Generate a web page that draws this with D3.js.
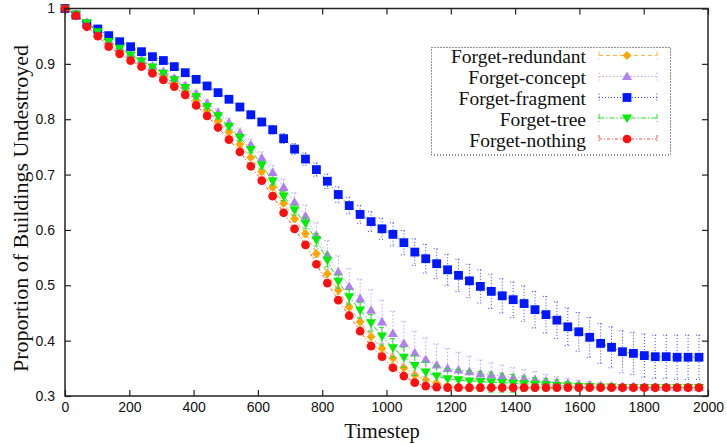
<!DOCTYPE html>
<html><head><meta charset="utf-8">
<script src="https://cdn.jsdelivr.net/npm/d3@7"></script>
<style>body{margin:0;background:#fff}</style>
</head><body><svg id="c" width="727" height="444"></svg>
<script>
const timesteps=[0,34,68,102,136,170,204,238,272,306,340,374,408,442,476,510,544,578,612,646,680,714,748,782,816,850,884,918,952,986,1020,1054,1088,1122,1156,1190,1224,1258,1292,1326,1360,1394,1428,1462,1496,1530,1564,1598,1632,1666,1700,1734,1768,1802,1836,1870,1904,1938,1972];

const forgetRedundant=[1.0,0.988,0.970,0.954,0.936,0.923,0.911,0.900,0.889,0.877,0.865,0.851,0.834,0.816,0.797,0.777,0.755,0.731,0.705,0.677,0.648,0.620,0.593,0.557,0.521,0.491,0.461,0.434,0.407,0.386,0.368,0.351,0.338,0.329,0.323,0.318,0.316,0.315,0.315,0.315,0.315,0.315,0.315,0.315,0.315,0.315,0.315,0.315,0.315,0.315,0.315,0.315,0.315,0.315,0.315,0.315,0.315,0.315,0.315];
const forgetRedundantErr=[0,0.001,0.001,0.001,0.002,0.002,0.002,0.002,0.002,0.003,0.003,0.003,0.003,0.003,0.004,0.004,0.004,0.004,0.005,0.005,0.005,0.006,0.006,0.007,0.007,0.008,0.008,0.008,0.008,0.008,0.008,0.007,0.007,0.006,0.005,0.004,0.003,0.003,0.002,0.002,0.002,0.002,0.002,0.001,0.001,0.001,0.001,0.001,0.001,0.001,0.001,0.001,0.001,0.001,0.001,0.001,0.001,0.001,0.001];

const forgetConcept=[1.0,0.990,0.975,0.960,0.942,0.930,0.918,0.907,0.896,0.886,0.874,0.861,0.846,0.829,0.812,0.794,0.775,0.754,0.730,0.704,0.677,0.650,0.625,0.590,0.555,0.524,0.498,0.476,0.455,0.434,0.413,0.395,0.378,0.366,0.356,0.350,0.347,0.344,0.340,0.338,0.336,0.333,0.332,0.330,0.327,0.325,0.323,0.321,0.320,0.319,0.318,0.317,0.317,0.316,0.316,0.316,0.315,0.315,0.315];
const forgetConceptErr=[0,0.001,0.002,0.002,0.003,0.003,0.003,0.004,0.004,0.004,0.005,0.005,0.005,0.006,0.007,0.008,0.009,0.010,0.011,0.013,0.015,0.017,0.020,0.023,0.026,0.029,0.032,0.035,0.037,0.039,0.040,0.040,0.039,0.039,0.038,0.036,0.032,0.028,0.025,0.022,0.020,0.018,0.016,0.014,0.012,0.010,0.009,0.007,0.006,0.005,0.004,0.004,0.003,0.003,0.002,0.002,0.002,0.002,0.002];

const forgetFragment=[1.0,0.988,0.972,0.963,0.951,0.940,0.931,0.922,0.913,0.906,0.895,0.884,0.872,0.860,0.848,0.836,0.822,0.808,0.795,0.781,0.765,0.746,0.728,0.709,0.688,0.664,0.644,0.628,0.615,0.602,0.592,0.577,0.560,0.548,0.539,0.528,0.518,0.508,0.498,0.489,0.481,0.474,0.467,0.456,0.447,0.437,0.425,0.416,0.406,0.395,0.388,0.380,0.377,0.373,0.371,0.371,0.370,0.370,0.370];
const forgetFragmentErr=[0,0.001,0.002,0.002,0.002,0.003,0.003,0.003,0.003,0.004,0.004,0.004,0.005,0.005,0.005,0.006,0.006,0.007,0.007,0.008,0.009,0.010,0.011,0.012,0.013,0.014,0.015,0.016,0.018,0.019,0.021,0.022,0.024,0.026,0.027,0.028,0.029,0.030,0.030,0.031,0.031,0.032,0.032,0.033,0.033,0.033,0.034,0.035,0.036,0.036,0.037,0.038,0.038,0.039,0.039,0.039,0.040,0.040,0.040];

const forgetTree=[1.0,0.990,0.974,0.958,0.940,0.928,0.916,0.905,0.894,0.883,0.871,0.857,0.841,0.823,0.806,0.787,0.767,0.745,0.717,0.688,0.661,0.636,0.612,0.582,0.545,0.507,0.479,0.455,0.432,0.408,0.387,0.370,0.355,0.343,0.336,0.331,0.329,0.327,0.326,0.325,0.324,0.323,0.322,0.321,0.320,0.319,0.318,0.317,0.317,0.316,0.316,0.315,0.315,0.315,0.315,0.315,0.315,0.315,0.315];
const forgetTreeErr=[0,0.001,0.001,0.002,0.002,0.002,0.003,0.003,0.003,0.003,0.003,0.004,0.004,0.004,0.005,0.005,0.006,0.006,0.007,0.007,0.008,0.009,0.010,0.011,0.012,0.012,0.013,0.014,0.015,0.016,0.017,0.018,0.018,0.019,0.019,0.019,0.019,0.019,0.018,0.018,0.017,0.016,0.014,0.012,0.011,0.010,0.008,0.007,0.006,0.005,0.004,0.003,0.003,0.002,0.002,0.002,0.002,0.001,0.001];

const forgetNothing=[1.0,0.987,0.967,0.950,0.931,0.918,0.906,0.895,0.883,0.871,0.859,0.844,0.825,0.806,0.785,0.763,0.741,0.715,0.689,0.661,0.631,0.602,0.573,0.538,0.504,0.473,0.445,0.417,0.390,0.371,0.351,0.336,0.324,0.318,0.316,0.315,0.315,0.315,0.315,0.315,0.315,0.315,0.315,0.315,0.315,0.315,0.315,0.315,0.315,0.315,0.315,0.315,0.315,0.315,0.315,0.315,0.315,0.315,0.315];
const forgetNothingErr=[0,0.001,0.001,0.001,0.001,0.002,0.002,0.002,0.002,0.002,0.002,0.002,0.003,0.003,0.003,0.003,0.003,0.003,0.003,0.004,0.004,0.004,0.004,0.004,0.004,0.004,0.004,0.004,0.004,0.004,0.003,0.003,0.003,0.002,0.002,0.002,0.002,0.002,0.001,0.001,0.001,0.001,0.001,0.001,0.001,0.001,0.001,0.001,0.001,0.001,0.001,0.001,0.001,0.001,0.001,0.001,0.001,0.001,0.001];

const seriesNames=["Forget-redundant","Forget-concept","Forget-fragment","Forget-tree","Forget-nothing"];
const xTicks=[0,200,400,600,800,1000,1200,1400,1600,1800,2000];
const yTicks=[0.3,0.4,0.5,0.6,0.7,0.8,0.9,1];
const xTitle="Timestep";
const yTitle="Proportion of Buildings Undestroyed";

const series=[
 {name:seriesNames[0],v:forgetRedundant,e:forgetRedundantErr,line:"#f5b440",mark:"#ffa500",dash:"4,3",sym:"diamond"},
 {name:seriesNames[1],v:forgetConcept,e:forgetConceptErr,line:"#c0a0f5",mark:"#b080f0",dash:"1.5,2",sym:"tri"},
 {name:seriesNames[2],v:forgetFragment,e:forgetFragmentErr,line:"#3344ff",mark:"#0018ff",dash:"1,2",sym:"square"},
 {name:seriesNames[3],v:forgetTree,e:forgetTreeErr,line:"#22dd22",mark:"#00ee00",dash:"5,2,1.5,2",sym:"trid"},
 {name:seriesNames[4],v:forgetNothing,e:forgetNothingErr,line:"#ff4444",mark:"#ff1010",dash:"3,2,1,2",sym:"circle"}
];

const svg=d3.select("#c");
const L=65,R=708,T=8.5,B=396;
const x=d3.scaleLinear().domain([0,2000]).range([L,R]);
const y=d3.scaleLinear().domain([0.3,1]).range([B,T]);

function symPath(s){
  if(s==="diamond") return "M0,-4.5L4.5,0L0,4.5L-4.5,0Z";
  if(s==="tri") return "M0,-5L5,3.6L-5,3.6Z";
  if(s==="trid") return "M0,5L5,-3.6L-5,-3.6Z";
  if(s==="square") return "M-4.4,-4.4H4.4V4.4H-4.4Z";
  return d3.symbol(d3.symbolCircle,60)();
}

// axes
const fmt=d=>d===1?"1":d3.format(".1f")(d);
const gx=svg.append("g").attr("transform",`translate(0,${B})`)
  .call(d3.axisBottom(x).tickValues(xTicks).tickSizeInner(-6).tickSizeOuter(0).tickPadding(6).tickFormat(d3.format("d")));
const gxt=svg.append("g").attr("transform",`translate(0,${T})`)
  .call(d3.axisTop(x).tickValues(xTicks).tickSizeInner(-6).tickSizeOuter(0).tickFormat(""));
const gy=svg.append("g").attr("transform",`translate(${L},0)`)
  .call(d3.axisLeft(y).tickValues(yTicks).tickSizeInner(-6).tickSizeOuter(0).tickPadding(10).tickFormat(fmt));
const gyr=svg.append("g").attr("transform",`translate(${R},0)`)
  .call(d3.axisRight(y).tickValues(yTicks).tickSizeInner(-6).tickSizeOuter(0).tickFormat(""));
[gx,gxt,gy,gyr].forEach(g=>{
  g.select(".domain").remove();
  g.selectAll(".tick line").attr("stroke","#222").attr("stroke-width",1.2);
  g.selectAll(".tick text").attr("font-family","'Liberation Sans',Arial,sans-serif").attr("font-size",14).attr("fill","#111");
});

const plot=svg.append("g");
series.forEach(s=>{
  const pts=timesteps.map((t,i)=>({t,v:s.v[i],e:s.e[i]}));
  const g=plot.append("g");
  g.append("path").datum(pts).attr("fill","none").attr("stroke",s.line).attr("stroke-width",1)
   .attr("stroke-dasharray",s.dash)
   .attr("d",d3.line().x(d=>x(d.t)).y(d=>y(d.v)));
  const eb=g.append("g").attr("stroke",s.line).attr("stroke-width",1).attr("stroke-dasharray",s.dash).attr("fill","none");
  pts.filter(d=>d.e>0).forEach(d=>{
    const cx=x(d.t),y1=y(d.v+d.e),y2=y(d.v-d.e);
    eb.append("path").attr("d",`M${cx},${y1}V${y2}M${cx-3},${y1}H${cx+3}M${cx-3},${y2}H${cx+3}`);
  });
  g.selectAll("path.m").data(pts).join("path").attr("class","m")
   .attr("transform",d=>`translate(${x(d.t)},${y(d.v)})`)
   .attr("d",symPath(s.sym)).attr("fill",s.mark);
});

// frame
svg.append("rect").attr("x",L).attr("y",T).attr("width",R-L).attr("height",B-T)
  .attr("fill","none").attr("stroke","#222").attr("stroke-width",1.5);

// titles
svg.append("text").attr("x",382).attr("y",438).attr("text-anchor","middle")
  .attr("font-family","'Liberation Serif','Times New Roman',serif").attr("font-size",20.5).attr("fill","#111").text(xTitle);
svg.append("text").attr("transform","translate(28,208.5) rotate(-90)").attr("text-anchor","middle")
  .attr("font-family","'Liberation Serif','Times New Roman',serif").attr("font-size",22).attr("fill","#111").text(yTitle);

// legend
const lg=svg.append("g");
lg.append("rect").attr("x",431.5).attr("y",47.5).attr("width",239).attr("height",107.5)
  .attr("fill","#fff").attr("stroke","#222").attr("stroke-width",1).attr("stroke-dasharray","1,2");
const rowY=[55.5,76.5,97.5,118,139];
series.forEach((s,i)=>{
  const yy=rowY[i];
  lg.append("text").attr("x",586).attr("y",yy+7.5).attr("text-anchor","end")
    .attr("font-family","'Liberation Serif','Times New Roman',serif").attr("font-size",19.5).attr("fill","#111").text(s.name);
  lg.append("path").attr("d",`M599,${yy}H657M599,${yy-4}V${yy+4}M657,${yy-4}V${yy+4}`)
    .attr("stroke",s.line).attr("stroke-width",1).attr("stroke-dasharray",s.dash).attr("fill","none");
  lg.append("path").attr("transform",`translate(627,${yy})`).attr("d",symPath(s.sym)).attr("fill",s.mark);
});
</script></body></html>
